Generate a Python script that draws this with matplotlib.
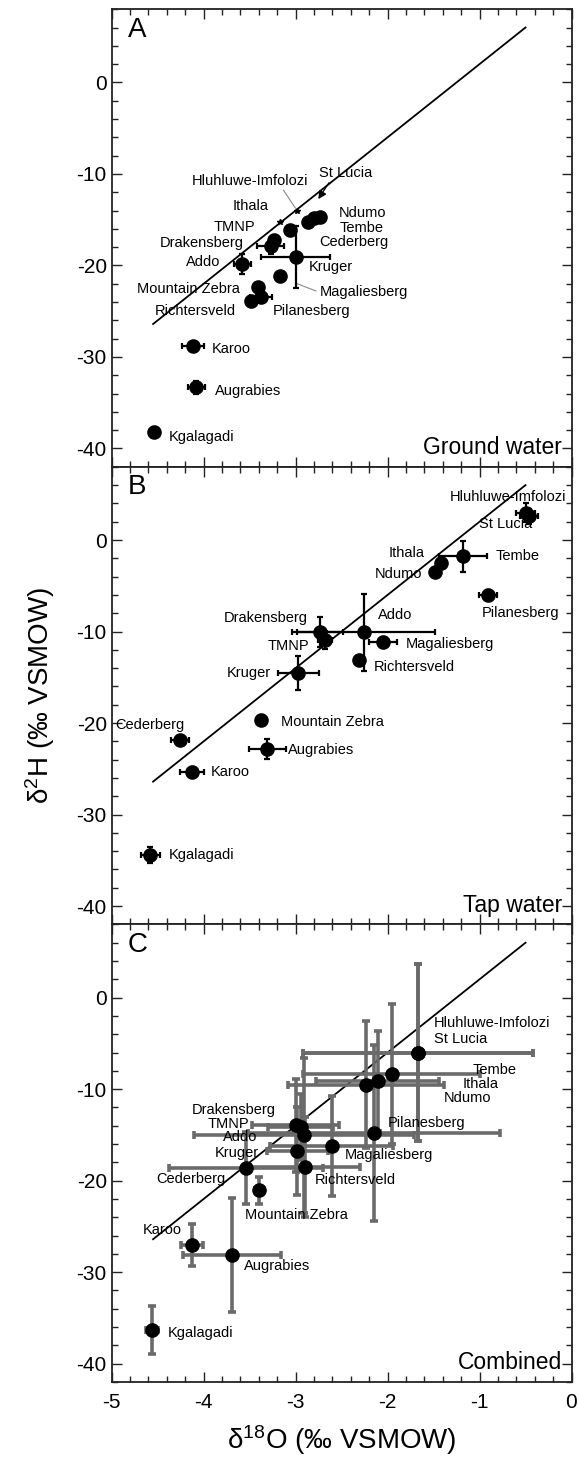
import matplotlib
matplotlib.use("Agg")
import matplotlib.pyplot as plt
from matplotlib.ticker import MultipleLocator

plt.rcParams['font.family'] = ['Liberation Sans', 'DejaVu Sans']
plt.rcParams['mathtext.fontset'] = 'custom'
plt.rcParams['mathtext.rm'] = 'Liberation Sans'
plt.rcParams['mathtext.it'] = 'Liberation Sans:italic'
plt.rcParams['axes.unicode_minus'] = False

# ---------------- data ----------------
# Panel A: ground water
a_sites = ['St Lucia', 'Ndumo', 'Tembe', 'Cederberg', 'TMNP', 'Drakensberg', 'Addo', 'Kruger',
           'Magaliesberg', 'Mountain Zebra', 'Pilanesberg', 'Richtersveld', 'Karoo', 'Augrabies', 'Kgalagadi']
a_x = [-2.80, -2.74, -2.86, -3.06, -3.24, -3.27, -3.58, -3.00, -3.17, -3.41, -3.38, -3.49, -4.12, -4.08, -4.54]
a_y = [-14.8, -14.7, -15.3, -16.1, -17.2, -17.9, -19.85, -19.05, -21.2, -22.3, -23.5, -23.9, -28.8, -33.3, -38.2]
a_xerr = [0, 0, 0, 0, 0, 0.145, 0.095, 0.375, 0, 0, 0.12, 0, 0.12, 0.09, 0]
a_yerr = [0, 0, 0, 0, 0, 0.9, 1.1, 3.37, 0, 0, 0.5, 0, 0.3, 0.7, 0]
# small markers lying on the line (Hluhluwe-Imfolozi, Ithala)
a_small_x = [-2.985, -3.167]
a_small_y = [-14.0, -15.3]

a_labels = ['Hluhluwe-Imfolozi', 'St Lucia', 'Ithala', 'Ndumo', 'Tembe', 'Cederberg', 'TMNP', 'Drakensberg',
            'Addo', 'Kruger', 'Magaliesberg', 'Mountain Zebra', 'Richtersveld', 'Pilanesberg', 'Karoo',
            'Augrabies', 'Kgalagadi']
a_lab_x = [-3.50, -2.46, -3.49, -2.53, -2.525, -2.74, -3.667, -4.026, -3.82, -2.858, -2.738, -4.163,
           -4.087, -2.822, -3.909, -3.873, -4.38]
a_lab_y = [-10.8, -9.95, -13.5, -14.3, -15.9, -17.4, -15.85, -17.55, -19.67, -20.2, -22.95, -22.6,
           -25.0, -25.0, -29.1, -33.7, -38.7]
a_lab_ha = ['center', 'center', 'center', 'left', 'left', 'left', 'center', 'center', 'right', 'left',
            'left', 'center', 'center', 'center', 'left', 'left', 'left']

# Panel B: tap water
b_sites = ['Hluhluwe-Imfolozi', 'St Lucia', 'Tembe', 'Ithala', 'Ndumo', 'Pilanesberg', 'Addo', 'Drakensberg',
           'TMNP', 'Magaliesberg', 'Richtersveld', 'Kruger', 'Mountain Zebra', 'Cederberg', 'Augrabies',
           'Karoo', 'Kgalagadi']
b_x = [-0.50, -0.46, -1.18, -1.42, -1.48, -0.905, -2.26, -2.74, -2.68, -2.05, -2.31, -2.97, -3.38,
       -4.26, -3.31, -4.13, -4.58]
b_y = [3.0, 2.6, -1.8, -2.55, -3.46, -6.0, -10.1, -10.05, -10.9, -11.1, -13.1, -14.5, -19.7,
       -21.9, -22.8, -25.3, -34.4]
b_xerr = [0.1, 0.1, 0.26, 0, 0, 0.1, 0.78, 0.25, 0.08, 0.15, 0, 0.22, 0, 0.1, 0.2, 0.13, 0.1]
b_yerr = [1.0, 0.8, 1.7, 0, 0, 0.5, 4.2, 1.6, 1.0, 0.5, 0, 1.85, 0, 0.5, 1.1, 0.5, 0.9]

b_labels = ['Hluhluwe-Imfolozi', 'St Lucia', 'Ithala', 'Tembe', 'Ndumo', 'Pilanesberg', 'Addo',
            'Magaliesberg', 'Richtersveld', 'Drakensberg', 'TMNP', 'Kruger', 'Mountain Zebra',
            'Cederberg', 'Augrabies', 'Karoo', 'Kgalagadi']
b_lab_x = [-0.69, -0.72, -1.79, -0.83, -1.88, -0.55, -2.10, -1.80, -2.155, -3.32, -3.075, -3.51,
           -3.16, -4.58, -3.08, -3.92, -4.38]
b_lab_y = [4.7, 1.75, -1.4, -1.75, -3.7, -8.0, -8.2, -11.4, -13.85, -8.56, -11.6, -14.57, -19.86,
           -20.2, -22.9, -25.3, -34.4]
b_lab_ha = ['center', 'center', 'center', 'left', 'center', 'center', 'left', 'left', 'left', 'center',
            'center', 'center', 'left', 'center', 'left', 'left', 'left']

# Panel C: combined
c_sites = ['Hluhluwe-Imfolozi', 'St Lucia', 'Tembe', 'Ithala', 'Ndumo', 'Pilanesberg', 'Magaliesberg',
           'Richtersveld', 'Drakensberg', 'TMNP', 'Addo', 'Kruger', 'Cederberg', 'Mountain Zebra',
           'Karoo', 'Augrabies', 'Kgalagadi']
c_x = [-1.67, -1.67, -1.955, -2.107, -2.238, -2.144, -2.608, -2.898, -3.00, -2.945, -2.909, -2.982,
       -3.54, -3.395, -4.127, -3.692, -4.562]
c_y = [-6.0, -6.0, -8.3, -9.1, -9.5, -14.8, -16.2, -18.5, -13.96, -14.14, -15.05, -16.8, -18.6,
       -21.06, -27.0, -28.1, -36.3]
c_xerr = [1.25, 1.25, 0.96, 0.67, 0.85, 1.37, 0.67, 0.6, 0.47, 0.35, 1.2, 0.33, 0.84, 0.05,
          0.12, 0.53, 0.07]
c_yerr = [9.7, 9.7, 7.65, 5.5, 6.9, 9.6, 5.5, 5.5, 5.1, 3.6, 8.5, 4.8, 3.9, 1.45, 2.3, 6.2, 2.6]

c_labels = ['Hluhluwe-Imfolozi', 'St Lucia', 'Tembe', 'Ithala', 'Ndumo', 'Pilanesberg', 'Magaliesberg',
            'Richtersveld', 'Drakensberg', 'TMNP', 'Addo', 'Kruger', 'Cederberg', 'Mountain Zebra',
            'Karoo', 'Augrabies', 'Kgalagadi']
c_lab_x = [-1.495, -1.495, -1.074, -1.183, -1.394, -2.003, -2.463, -2.79, -3.673, -3.728, -3.60, -3.637,
           -4.138, -3.554, -4.453, -3.565, -4.39]
c_lab_y = [-2.77, -4.56, -7.87, -9.47, -10.93, -13.7, -17.24, -19.97, -12.3, -13.85, -15.23, -16.94,
           -19.78, -23.8, -25.35, -29.37, -36.65]
c_lab_ha = ['left', 'left', 'left', 'left', 'left', 'left', 'left', 'left', 'center', 'center', 'center',
            'center', 'center', 'left', 'center', 'left', 'left']

# meteoric water line: dH = 8*dO + 10
mwl_x = [-4.55, -0.5]
mwl_slope = 8.0
mwl_icpt = 10.0

panel_letters = ['A', 'B', 'C']
panel_titles = ['Ground water', 'Tap water', 'Combined']
x_ticks = [-5, -4, -3, -2, -1, 0]
y_ticks = [0, -10, -20, -30, -40]

# ---------------- figure ----------------
W, H = 579, 1463
fig = plt.figure(figsize=(W / 100, H / 100), dpi=100)
left = 111.7 / W
width = (571.5 - 111.7) / W
ph = 457.6 / H
bottom0 = 1 - 1382 / H

axes = []
for i in range(3):
    b = bottom0 + (2 - i) * ph
    ax = fig.add_axes([left, b, width, ph])
    axes.append(ax)

TICKFS = 15
LABFS = 10.5


def style(ax, show_x):
    ax.set_xlim(-5, 0)
    ax.set_ylim(-42, 8)
    ax.set_xticks(x_ticks)
    ax.set_yticks(y_ticks)
    ax.xaxis.set_minor_locator(MultipleLocator(0.2))
    ax.yaxis.set_minor_locator(MultipleLocator(2))
    ax.tick_params(which='both', direction='in', top=True, right=True, width=1.0, colors='#222222',
                   labelcolor='black')
    ax.tick_params(which='major', length=7, labelsize=TICKFS)
    ax.tick_params(which='minor', length=4)
    ax.tick_params(axis='x', pad=8)
    if not show_x:
        ax.tick_params(axis='x', labelbottom=False)
    for s in ax.spines.values():
        s.set_linewidth(1.3)
        s.set_color('#222222')


def mwl(ax):
    ys = [mwl_slope * v + mwl_icpt for v in mwl_x]
    ax.plot(mwl_x, ys, color='black', lw=1.3, zorder=2)


def labels(ax, names, xs, ys, has):
    for n, x, y, ha in zip(names, xs, ys, has):
        ax.text(x, y, n, fontsize=LABFS, ha=ha, va='center', color='black', zorder=6)


# Panel A
ax = axes[0]
style(ax, False)
mwl(ax)
ax.errorbar(a_x, a_y, xerr=a_xerr, yerr=a_yerr, fmt='o', color='black', ms=9.5, elinewidth=1.6,
            capsize=2.5, capthick=1.6, zorder=4)
ax.plot(a_small_x, a_small_y, marker='*', ls='none', color='black', ms=4, zorder=4)
labels(ax, a_labels, a_lab_x, a_lab_y, a_lab_ha)
ax.annotate('', xy=(a_small_x[0], a_small_y[0]), xytext=(-3.15, -11.5),
            arrowprops=dict(arrowstyle='-', color='#888888', lw=0.8))
ax.annotate('', xy=(-2.77, -13.0), xytext=(-2.62, -10.7),
            arrowprops=dict(arrowstyle='-|>', color='black', lw=0.9, mutation_scale=12))
ax.annotate('', xy=(-3.02, -21.85), xytext=(-2.75, -22.9),
            arrowprops=dict(arrowstyle='-', color='#888888', lw=0.8))

# Panel B
ax = axes[1]
style(ax, False)
mwl(ax)
ax.errorbar(b_x, b_y, xerr=b_xerr, yerr=b_yerr, fmt='o', color='black', ms=9.5, elinewidth=1.6,
            capsize=2.5, capthick=1.6, zorder=4)
labels(ax, b_labels, b_lab_x, b_lab_y, b_lab_ha)
ax.set_ylabel(r'δ$^{2}$H (‰ VSMOW)', fontsize=20, labelpad=14)

# Panel C
ax = axes[2]
style(ax, True)
mwl(ax)
ax.errorbar(c_x, c_y, xerr=c_xerr, yerr=c_yerr, fmt='none', ecolor='#6a6a6a', elinewidth=2.6,
            capsize=2.8, capthick=2.6, zorder=3)
ax.plot(c_x, c_y, 'o', color='black', ms=9.5, zorder=5)
labels(ax, c_labels, c_lab_x, c_lab_y, c_lab_ha)
ax.set_xlabel(r'δ$^{18}$O (‰ VSMOW)', fontsize=20, labelpad=8)

for ax, letter, title in zip(axes, panel_letters, panel_titles):
    ax.text(0.035, 0.955, letter, transform=ax.transAxes, fontsize=20, ha='left', va='center')
    ax.text(0.979, 0.042, title, transform=ax.transAxes, fontsize=16.5, ha='right', va='center')

fig.savefig('out.png', dpi=100)
